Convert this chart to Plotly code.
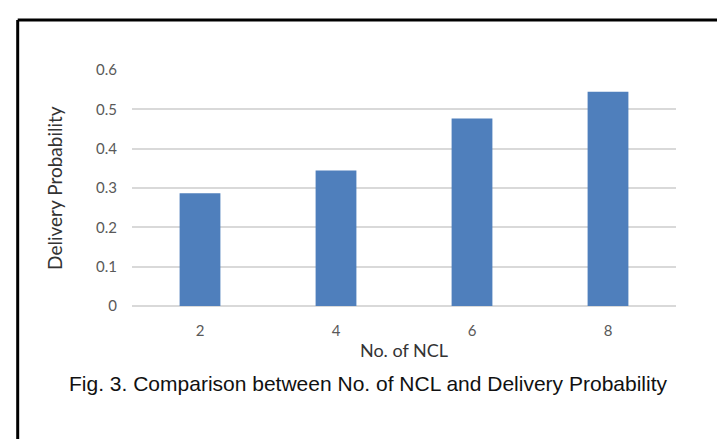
import plotly.graph_objects as go

# Number of NCL nodes vs. measured delivery probability
ncl_counts = ["2", "4", "6", "8"]
delivery_prob = [0.287, 0.345, 0.477, 0.545]
y_ticks = [0, 0.1, 0.2, 0.3, 0.4, 0.5, 0.6]
y_tick_text = ["0", "0.1", "0.2", "0.3", "0.4", "0.5", "0.6"]

W, H = 717, 447

fig = go.Figure(
    go.Bar(
        x=ncl_counts,
        y=delivery_prob,
        marker=dict(color="#4F7FBC", line=dict(width=0)),
        width=0.30,
    )
)

fig.update_layout(
    width=W,
    height=H,
    margin=dict(l=0, r=0, t=0, b=0),
    paper_bgcolor="white",
    plot_bgcolor="white",
    showlegend=False,
    font=dict(family="Lato, sans-serif", color="#595959"),
    xaxis=dict(
        domain=[132 / W, 676 / W],
        type="category",
        showgrid=False,
        showline=False,
        zeroline=False,
        ticks="",
        ticklabelstandoff=14,
        tickfont=dict(size=15, color="#595959"),
        title=dict(text="No. of NCL", font=dict(size=18, color="#333333"), standoff=6),
    ),
    yaxis=dict(
        domain=[1 - 308.5 / H, 1 - 62.7 / H],
        range=[0, 0.6],
        tickvals=y_ticks,
        ticktext=y_tick_text,
        showgrid=True,
        gridcolor="#D9D9D9",
        gridwidth=1.5,
        zeroline=True,
        zerolinecolor="#D9D9D9",
        zerolinewidth=1.5,
        showline=False,
        ticks="",
        ticklabelstandoff=14,
        tickfont=dict(size=15, color="#595959"),
        title=dict(text="Delivery Probability", font=dict(size=19, color="#333333"), standoff=28),
    ),
    annotations=[
        dict(
            text="Fig. 3. Comparison between No. of NCL and Delivery Probability",
            xref="paper", yref="paper",
            x=368 / W, y=1 - 389 / H,
            xanchor="center", yanchor="middle",
            showarrow=False,
            font=dict(family="Liberation Sans, Arial, sans-serif", size=21, color="#111111"),
        )
    ],
    shapes=[
        dict(type="line", xref="paper", yref="paper",
             x0=17.7 / W, x1=1, y0=1 - 10.5 / H, y1=1 - 10.5 / H,
             line=dict(color="black", width=3)),
        dict(type="line", xref="paper", yref="paper",
             x0=17.7 / W, x1=17.7 / W, y0=0, y1=1 - 10.5 / H,
             line=dict(color="black", width=3)),
    ],
)

fig.write_html("out.html")
